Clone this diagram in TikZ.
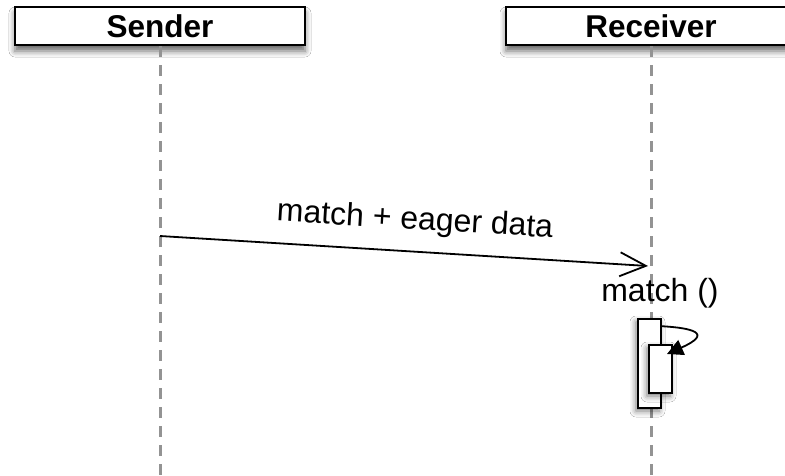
\documentclass[tikz,border=0pt]{standalone}
\usepackage{fontspec}
\setmainfont{Liberation Sans}
\usetikzlibrary{arrows.meta,shadows.blur,calc}
\begin{document}
\begin{tikzpicture}[x=1pt,y=-1pt,
  header/.style={draw=black,line width=2pt,fill=white,minimum width=290pt,minimum height=38pt,
    inner sep=0pt,font=\fontsize{31.5}{35}\selectfont\bfseries,
    blur shadow={shadow xshift=0pt,shadow yshift=-6pt,shadow blur radius=6pt,shadow opacity=60}},
  lifeline/.style={draw=gray!85,line width=3pt,dash pattern=on 11pt off 8pt},
  message/.style={line width=1.8pt,-{Straight Barb[length=26pt,width=24pt,line width=1.8pt]}},
  msglabel/.style={font=\fontsize{32}{36}\selectfont},
  activation/.style={draw=black,line width=1.6pt,fill=white,inner sep=0pt,
    blur shadow={shadow xshift=-2pt,shadow yshift=-3pt,shadow blur radius=6pt,shadow opacity=55}},
  selfcall/.style={line width=1.8pt,-{Triangle[length=16pt,width=16pt]}}]
\useasboundingbox (0,0) rectangle (785,475);
\fill[white] (0,0) rectangle (785,475);

% participants
\node[header] (sender) at (160,26) {Sender};
\node[header] (receiver) at (651,26) {Receiver};

% lifelines
\coordinate (sEnd) at (160,478);
\coordinate (rEnd) at (651,478);
\draw[lifeline] (sender.south) -- (sEnd);
\draw[lifeline] (receiver.south) -- (rEnd);

% message from sender to receiver
\coordinate (mFrom) at (160,236);
\coordinate (mTo) at (648,266);
\draw[message] (mFrom) -- (mTo);
\node[msglabel,rotate=-3.5] (mLabel) at (415,221) {match + eager data};

% receiver activation and its nested call
\node[msglabel,anchor=base] (callLabel) at (660,301) {match ()};
\node[activation,minimum width=23pt,minimum height=89pt] (act) at (649.5,363.5) {};
\node[activation,minimum width=23pt,minimum height=48pt] (inner) at (660.5,369) {};
\coordinate (loopStart) at ($(act.north east)+(0,8)$);
\coordinate (loopEnd) at (667,354);
\draw[selfcall] (loopStart) .. controls (692,328) and (714,333) .. (loopEnd);
\end{tikzpicture}
\end{document}
